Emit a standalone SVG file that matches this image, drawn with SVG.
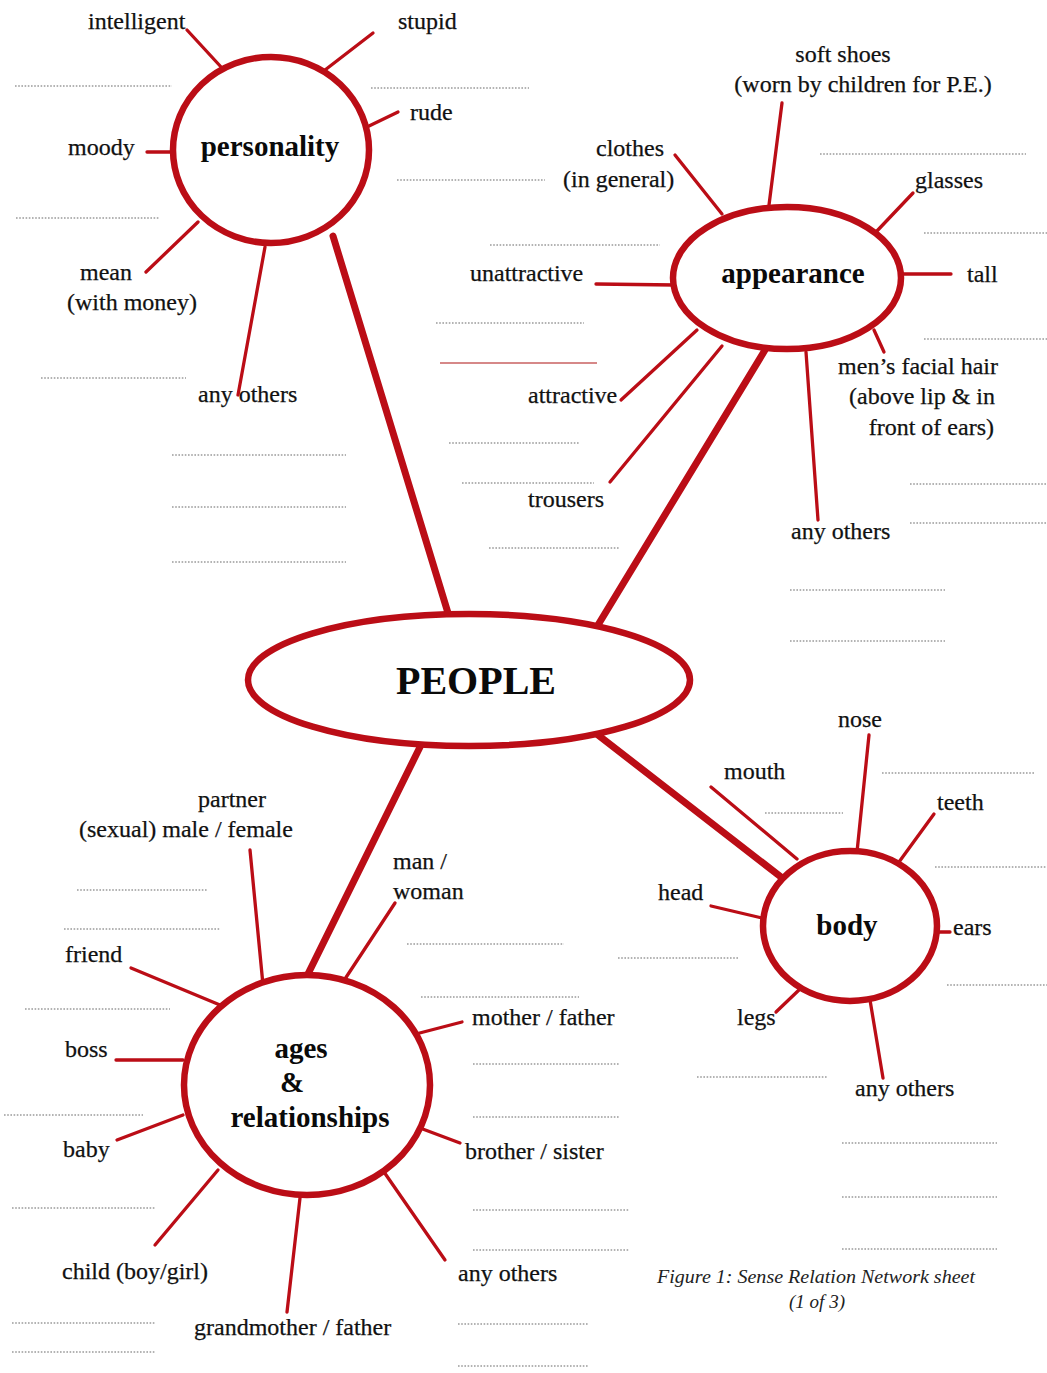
<svg xmlns="http://www.w3.org/2000/svg" width="1047" height="1373" viewBox="0 0 1047 1373">
<style>
.hub{fill:#fff;stroke:#bb0d16;stroke-width:6.5}
.spk{stroke:#bb0d16;stroke-width:3.3;stroke-linecap:round;fill:none}
.main{stroke:#bb0d16;stroke-width:7;stroke-linecap:round;fill:none}
.dot{stroke:#9a9a9a;stroke-width:1.4;stroke-dasharray:1.6 1.6;fill:none}
.lbl{font-family:"Liberation Serif","Times New Roman",serif;font-size:24px;fill:#111;stroke:#111;stroke-width:0.25}
.hl{font-family:"Liberation Serif","Times New Roman",serif;font-size:29px;font-weight:bold;fill:#0a0a0a;text-anchor:middle}
.cap{font-family:"Liberation Serif","Times New Roman",serif;font-size:19px;font-style:italic;fill:#222;text-anchor:middle}
</style>
<rect width="1047" height="1373" fill="#fff"/>
<g id="answer-lines">
<path class="dot" d="M15 86H172M371 88H529M397 180H545M16 218H160M41 378H186M172 455H346M172 507H346M172 562H346"/>
<path class="dot" d="M820 154H1026M490 245H660M924 233H1047M436 323H584M924 339H1047M449 443H580M462 483H594M910 484H1047M910 523H1047M489 548H620M790 590H945M790 641H945"/>
<path d="M440 363H597" stroke="#c86060" stroke-width="1.4" fill="none"/>
<path class="dot" d="M882 773H1035M765 813H843M935 867H1047M618 958H738M947 985H1047M697 1077H827M842 1143H997M842 1197H997M842 1249H997"/>
<path class="dot" d="M77 890H207M64 929H220M407 944H564M421 997H579M25 1009H170M473 1064H620M4 1115H143M473 1117H620M12 1208H156M473 1210H629M473 1250H629M12 1323H156M458 1324H589M12 1352H156M458 1366H589"/>
</g>
<g id="connectors">
<line class="main" x1="333" y1="236" x2="448" y2="613"/>
<line class="main" x1="765" y1="350" x2="598" y2="625"/>
<line class="main" x1="421" y1="745" x2="306" y2="978"/>
<line class="main" x1="598" y1="735" x2="781" y2="877"/>
<line class="spk" x1="187" y1="30" x2="222" y2="68"/>
<line class="spk" x1="373" y1="33" x2="325" y2="70"/>
<line class="spk" x1="398" y1="112" x2="369" y2="126"/>
<line class="spk" x1="147" y1="152" x2="173" y2="152"/>
<line class="spk" x1="146" y1="272" x2="198" y2="222"/>
<line class="spk" x1="238" y1="395" x2="265" y2="247"/>
<line class="spk" x1="782" y1="103" x2="769" y2="205"/>
<line class="spk" x1="675" y1="155" x2="722" y2="214"/>
<line class="spk" x1="913" y1="193" x2="876" y2="232"/>
<line class="spk" x1="902" y1="274" x2="951" y2="274"/>
<line class="spk" x1="874" y1="330" x2="884" y2="352"/>
<line class="spk" x1="806" y1="352" x2="818" y2="520"/>
<line class="spk" x1="596" y1="284" x2="675" y2="285"/>
<line class="spk" x1="621" y1="400" x2="697" y2="330"/>
<line class="spk" x1="610" y1="482" x2="722" y2="346"/>
<line class="spk" x1="869" y1="735" x2="857" y2="852"/>
<line class="spk" x1="711" y1="787" x2="797" y2="859"/>
<line class="spk" x1="934" y1="814" x2="899" y2="862"/>
<line class="spk" x1="711" y1="906" x2="762" y2="918"/>
<line class="spk" x1="938" y1="932" x2="950" y2="932"/>
<line class="spk" x1="776" y1="1012" x2="800" y2="989"/>
<line class="spk" x1="870" y1="1000" x2="883" y2="1078"/>
<line class="spk" x1="250" y1="850" x2="263" y2="985"/>
<line class="spk" x1="395" y1="903" x2="341" y2="985"/>
<line class="spk" x1="131" y1="968" x2="220" y2="1005"/>
<line class="spk" x1="116" y1="1060" x2="183" y2="1060"/>
<line class="spk" x1="117" y1="1140" x2="183" y2="1115"/>
<line class="spk" x1="155" y1="1245" x2="218" y2="1170"/>
<line class="spk" x1="287" y1="1312" x2="300" y2="1198"/>
<line class="spk" x1="445" y1="1260" x2="384" y2="1172"/>
<line class="spk" x1="460" y1="1143" x2="420" y2="1128"/>
<line class="spk" x1="462" y1="1022" x2="412" y2="1035"/>
</g>
<g id="node-personality">
<ellipse class="hub" cx="271" cy="150" rx="98" ry="93"/>
<text class="hl" x="270" y="156">personality</text>
</g>
<g id="node-appearance">
<ellipse class="hub" cx="787" cy="278" rx="114" ry="71"/>
<text class="hl" x="793" y="283">appearance</text>
</g>
<g id="node-people">
<ellipse class="hub" cx="469" cy="680" rx="221" ry="66"/>
<text class="hl" x="476" y="694" style="font-size:40px">PEOPLE</text>
</g>
<g id="node-body">
<ellipse class="hub" cx="850" cy="926" rx="87" ry="75"/>
<text class="hl" x="847" y="935">body</text>
</g>
<g id="node-ages">
<ellipse class="hub" cx="307" cy="1085" rx="123" ry="110"/>
<text class="hl" x="301" y="1058">ages</text>
<text class="hl" x="292" y="1092">&amp;</text>
<text class="hl" x="310" y="1127">relationships</text>
</g>
<g id="labels-personality" class="lbl">
<text x="88" y="29">intelligent</text>
<text x="398" y="29">stupid</text>
<text x="410" y="120">rude</text>
<text x="68" y="155">moody</text>
<text x="80" y="280">mean</text>
<text x="67" y="310">(with money)</text>
<text x="198" y="402">any others</text>
</g>
<g id="labels-appearance" class="lbl">
<text x="843" y="62" text-anchor="middle">soft shoes</text>
<text x="863" y="92" text-anchor="middle">(worn by children for P.E.)</text>
<text x="596" y="156">clothes</text>
<text x="563" y="187">(in general)</text>
<text x="915" y="188">glasses</text>
<text x="967" y="282">tall</text>
<text x="998" y="374" text-anchor="end">men’s facial hair</text>
<text x="995" y="404" text-anchor="end">(above lip &amp; in</text>
<text x="994" y="435" text-anchor="end">front of ears)</text>
<text x="791" y="539">any others</text>
<text x="470" y="281">unattractive</text>
<text x="528" y="403">attractive</text>
<text x="528" y="507">trousers</text>
</g>
<g id="labels-body" class="lbl">
<text x="838" y="727">nose</text>
<text x="724" y="779">mouth</text>
<text x="937" y="810">teeth</text>
<text x="658" y="900">head</text>
<text x="953" y="935">ears</text>
<text x="737" y="1025">legs</text>
<text x="855" y="1096">any others</text>
</g>
<g id="labels-ages" class="lbl">
<text x="232" y="807" text-anchor="middle">partner</text>
<text x="79" y="837">(sexual) male / female</text>
<text x="393" y="869">man /</text>
<text x="393" y="899">woman</text>
<text x="65" y="962">friend</text>
<text x="65" y="1057">boss</text>
<text x="63" y="1157">baby</text>
<text x="62" y="1279">child (boy/girl)</text>
<text x="194" y="1335">grandmother / father</text>
<text x="458" y="1281">any others</text>
<text x="465" y="1159">brother / sister</text>
<text x="472" y="1025">mother / father</text>
</g>
<g id="caption">
<text class="cap" x="816" y="1283" textLength="318" lengthAdjust="spacingAndGlyphs">Figure 1: Sense Relation Network sheet</text>
<text class="cap" x="817" y="1308">(1 of 3)</text>
</g>
</svg>
